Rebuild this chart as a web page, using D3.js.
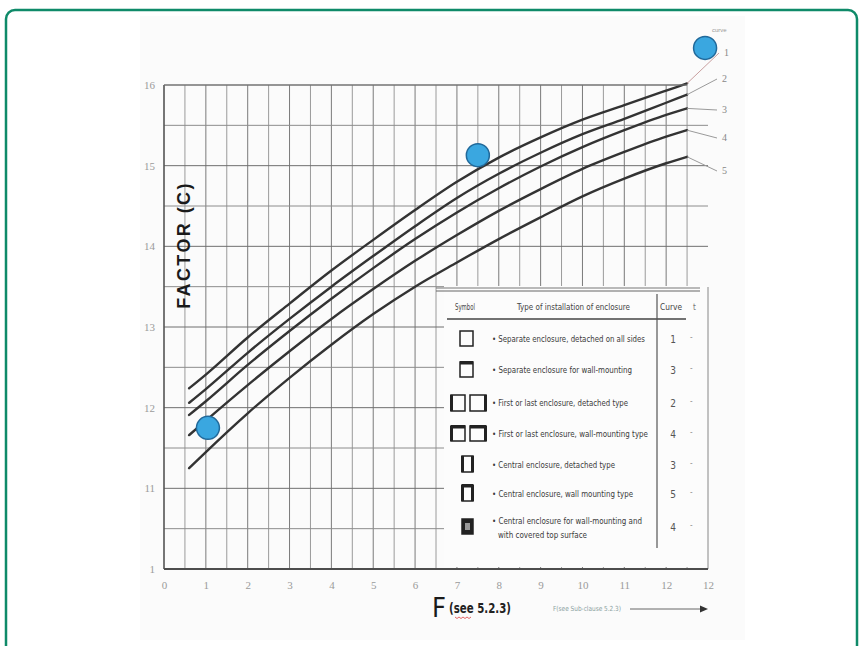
<!DOCTYPE html>
<html>
<head>
<meta charset="utf-8">
<script src="https://cdn.jsdelivr.net/npm/d3@7"></script>
<style>
  body { margin: 0; background: #fff; }
  svg { display: block; }
</style>
</head>
<body>
<svg id="chart" width="864" height="646"></svg>
<script>
// values (F on x, factor c on y)
const fPoints = [0.6, 1, 2, 3, 4, 5, 6, 7, 8, 9, 10, 11, 12, 12.5];
const curve1 = [1.224, 1.241, 1.287, 1.329, 1.370, 1.408, 1.445, 1.480, 1.510, 1.535, 1.557, 1.575, 1.593, 1.602];
const curve2 = [1.206, 1.223, 1.268, 1.310, 1.350, 1.388, 1.425, 1.460, 1.490, 1.516, 1.539, 1.558, 1.578, 1.588];
const curve3 = [1.191, 1.208, 1.253, 1.295, 1.335, 1.373, 1.409, 1.442, 1.472, 1.499, 1.523, 1.544, 1.563, 1.571];
const curve4 = [1.166, 1.184, 1.228, 1.270, 1.310, 1.347, 1.382, 1.414, 1.444, 1.471, 1.496, 1.517, 1.536, 1.544];
const curve5 = [1.125, 1.145, 1.193, 1.237, 1.278, 1.316, 1.350, 1.380, 1.409, 1.436, 1.462, 1.484, 1.503, 1.511];
const curveNames = ["1", "2", "3", "4", "5"];

// blue highlight dots
const markF = [1.05, 7.5, 12.93];
const markC = [1.175, 1.513, 1.646];

// tick labels as printed on the scan
const xTickValues = [0, 1, 2, 3, 4, 5, 6, 7, 8, 9, 10, 11, 12, 13];
const xTickLabels = ["0", "1", "2", "3", "4", "5", "6", "7", "8", "9", "10", "11", "12", "12"];
const yTickValues = [1.0, 1.1, 1.2, 1.3, 1.4, 1.5, 1.6];
const yTickLabels = ["1", "11", "12", "13", "14", "15", "16"];

// legend table
const legendSymbols = ["single", "singleTop", "double", "doubleTop", "central", "centralTop", "centralFilled"];
const legendTexts = [
    ["• Separate enclosure, detached on all sides"],
    ["• Separate enclosure for wall-mounting"],
    ["• First or last enclosure, detached type"],
    ["• First or last enclosure, wall-mounting type"],
    ["• Central enclosure, detached type"],
    ["• Central enclosure, wall mounting type"],
    ["• Central enclosure for wall-mounting and", "with covered top surface"]
];
const legendCurves = ["1", "3", "2", "4", "3", "5", "4"];

const svg = d3.select('#chart');

// green card frame (runs off the right/bottom of the window)
svg.append('rect')
    .attr('x', 6).attr('y', 10).attr('width', 851).attr('height', 660)
    .attr('rx', 9)
    .attr('fill', '#fff').attr('stroke', '#0f8a69').attr('stroke-width', 2.5);

// faint scanned paper
svg.append('rect')
    .attr('x', 140).attr('y', 16).attr('width', 605).attr('height', 624)
    .attr('fill', '#fbfbfb');

const x = d3.scaleLinear().domain([0, 13]).range([164, 708]);
const y = d3.scaleLinear().domain([1.0, 1.6]).range([569, 85]);

// grid
const grid = svg.append('g').attr('stroke-width', 1).attr('fill', 'none');
d3.range(0.5, 12.51, 0.5).forEach(f => {
    grid.append('line')
        .attr('x1', x(f)).attr('x2', x(f))
        .attr('y1', y(1.6)).attr('y2', y(1.0))
        .attr('stroke', Number.isInteger(f) ? '#7a7a7a' : '#9a9a9a');
});
d3.range(1.05, 1.601, 0.05).forEach(c => {
    const major = Math.abs(c * 10 - Math.round(c * 10)) < 1e-6;
    grid.append('line')
        .attr('x1', x(0)).attr('x2', c > 1.59 ? x(12.5) : x(13))
        .attr('y1', y(c)).attr('y2', y(c))
        .attr('stroke', major ? '#6f6f6f' : '#8c8c8c');
});

// curves
const curves = [curve1, curve2, curve3, curve4, curve5];
const line = d3.line()
    .x(d => x(d[0]))
    .y(d => y(d[1]))
    .curve(d3.curveMonotoneX);

curves.forEach(vals => {
    svg.append('path')
        .datum(fPoints.map((f, i) => [f, vals[i]]))
        .attr('d', line)
        .attr('fill', 'none')
        .attr('stroke', '#333')
        .attr('stroke-width', 2.4)
        .attr('stroke-linecap', 'round');
});

// leader lines to the curve numbers
const labelPos = [[724, 56], [722, 82], [722, 113], [722, 141], [722, 174]];
curves.forEach((vals, i) => {
    const ex = x(fPoints[fPoints.length - 1]);
    const ey = y(vals[vals.length - 1]);
    svg.append('line')
        .attr('x1', ex).attr('y1', ey)
        .attr('x2', labelPos[i][0] - 5).attr('y2', labelPos[i][1] - 3)
        .attr('stroke', i === 0 ? '#c9a0a0' : '#9a9a9a').attr('stroke-width', 1);
    svg.append('text')
        .attr('x', labelPos[i][0]).attr('y', labelPos[i][1])
        .attr('font-family', 'Liberation Serif, serif')
        .attr('font-size', 10).attr('fill', '#888')
        .text(curveNames[i]);
});
svg.append('text')
    .attr('x', 712).attr('y', 32)
    .attr('font-family', 'Liberation Sans, sans-serif')
    .attr('font-size', 6).attr('fill', '#999')
    .text('curve');

// legend table covering the lower-right of the grid
const lg = svg.append('g');
lg.append('rect')
    .attr('x', 444).attr('y', 286).attr('width', 264).attr('height', 281)
    .attr('fill', '#fcfcfc');
lg.append('line').attr('x1', x(6.5)).attr('x2', 700).attr('y1', 288).attr('y2', 288)
    .attr('stroke', '#777').attr('stroke-width', 1);
lg.append('line').attr('x1', x(6.5)).attr('x2', 700).attr('y1', 291).attr('y2', 291)
    .attr('stroke', '#666').attr('stroke-width', 1.2);
lg.append('line').attr('x1', 447).attr('x2', 686).attr('y1', 319).attr('y2', 319)
    .attr('stroke', '#444').attr('stroke-width', 1.3);
lg.append('line').attr('x1', 657).attr('x2', 657).attr('y1', 294).attr('y2', 548)
    .attr('stroke', '#555').attr('stroke-width', 1.2);
lg.append('line').attr('x1', x(13)).attr('x2', x(13)).attr('y1', 287).attr('y2', 569)
    .attr('stroke', '#888').attr('stroke-width', 1);

const headFont = 'Liberation Sans Narrow, DejaVu Sans Condensed, sans-serif';
[['Symbol', 455, 20], ['Type of installation of enclosure', 517, 113], ['Curve', 660, 22]].forEach(h => {
    lg.append('text')
        .attr('x', h[1]).attr('y', 310)
        .attr('font-family', headFont).attr('font-size', 8.5).attr('fill', '#444')
        .attr('textLength', h[2]).attr('lengthAdjust', 'spacingAndGlyphs')
        .text(h[0]);
});
lg.append('text').attr('x', 693).attr('y', 310)
    .attr('font-family', headFont).attr('font-size', 8).attr('fill', '#777').text('t');

const rowY = [339, 370, 403, 434, 465, 494, 527];
const textWidths = [[153], [140], [136], [156], [123], [141], [150, 89]];

const drawBox = (g, bx, by, w, h, thick, fill) => {
    g.append('rect').attr('x', bx).attr('y', by).attr('width', w).attr('height', h)
        .attr('fill', fill || 'none').attr('stroke', '#222').attr('stroke-width', 1.5);
    (thick || []).forEach(side => {
        const r = { top: [bx, by - 1, w, 3.5], left: [bx - 1, by, 3, h], right: [bx + w - 2, by, 3, h] }[side];
        g.append('rect').attr('x', r[0]).attr('y', r[1]).attr('width', r[2]).attr('height', r[3]).attr('fill', '#222');
    });
};

legendSymbols.forEach((sym, i) => {
    const cy = rowY[i];
    if (sym === 'single') drawBox(lg, 460, cy - 8, 13, 15);
    if (sym === 'singleTop') drawBox(lg, 460, cy - 8, 13, 15, ['top']);
    if (sym === 'double') { drawBox(lg, 451, cy - 8, 14, 16, ['left']); drawBox(lg, 470, cy - 8, 16, 16, ['right']); }
    if (sym === 'doubleTop') { drawBox(lg, 451, cy - 8, 14, 15, ['top', 'left']); drawBox(lg, 470, cy - 8, 16, 15, ['top', 'right']); }
    if (sym === 'central') drawBox(lg, 462, cy - 9, 11, 16, ['left', 'right']);
    if (sym === 'centralTop') drawBox(lg, 462, cy - 9, 11, 16, ['top', 'left', 'right']);
    if (sym === 'centralFilled') {
        drawBox(lg, 462, cy - 8, 11, 15, null, '#222');
        lg.append('rect').attr('x', 465).attr('y', cy - 4).attr('width', 5).attr('height', 7).attr('fill', '#999');
    }

    legendTexts[i].forEach((t, j) => {
        lg.append('text')
            .attr('x', j === 0 ? 492 : 498).attr('y', cy + 3 - (legendTexts[i].length > 1 ? 6 : 0) + j * 14)
            .attr('font-family', headFont).attr('font-size', 9).attr('fill', '#3a3a3a')
            .attr('textLength', textWidths[i][j]).attr('lengthAdjust', 'spacingAndGlyphs')
            .text(t);
    });
    lg.append('text')
        .attr('x', 673).attr('y', cy + 4)
        .attr('text-anchor', 'middle')
        .attr('font-family', headFont).attr('font-size', 10).attr('fill', '#555')
        .text(legendCurves[i]);
    lg.append('text')
        .attr('x', 690).attr('y', cy + 1)
        .attr('font-family', headFont).attr('font-size', 8).attr('fill', '#888')
        .text('-');
});

// axes frame
svg.append('line').attr('x1', x(0)).attr('x2', x(0)).attr('y1', y(1.6)).attr('y2', y(1.0))
    .attr('stroke', '#555').attr('stroke-width', 1.6);
svg.append('line').attr('x1', x(0)).attr('x2', x(13)).attr('y1', y(1.0)).attr('y2', y(1.0))
    .attr('stroke', '#4d4d4d').attr('stroke-width', 1.8);
svg.append('line').attr('x1', x(0)).attr('x2', x(12.5)).attr('y1', y(1.6)).attr('y2', y(1.6))
    .attr('stroke', '#777').attr('stroke-width', 1.2);

// tick labels
const xAxis = d3.axisBottom(x).tickValues(xTickValues).tickSize(0).tickPadding(12)
    .tickFormat((d, i) => xTickLabels[i]);
const gx = svg.append('g').attr('transform', `translate(0,${y(1.0)})`).call(xAxis);
gx.select('.domain').remove();
gx.selectAll('text').attr('font-family', 'Liberation Serif, serif').attr('font-size', 11).attr('fill', '#9a9a9a');

const yAxis = d3.axisLeft(y).tickValues(yTickValues).tickSize(0).tickPadding(9)
    .tickFormat((d, i) => yTickLabels[i]);
const gy = svg.append('g').attr('transform', `translate(${x(0)},0)`).call(yAxis);
gy.select('.domain').remove();
gy.selectAll('text').attr('font-family', 'Liberation Serif, serif').attr('font-size', 11).attr('fill', '#9a9a9a');

// axis titles
svg.append('text')
    .attr('transform', 'translate(190,245) rotate(-90)')
    .attr('text-anchor', 'middle')
    .attr('font-family', 'Liberation Sans, Arial, sans-serif')
    .attr('font-size', 18).attr('font-weight', 'bold').attr('letter-spacing', 2.4).attr('fill', '#1a1a1a')
    .text('FACTOR (C)');

svg.append('text')
    .attr('x', 432).attr('y', 617)
    .attr('font-family', 'Liberation Sans Narrow, DejaVu Sans Condensed, sans-serif')
    .attr('font-size', 27).attr('fill', '#1a1a1a')
    .text('F');
svg.append('text')
    .attr('x', 449).attr('y', 613)
    .attr('font-family', 'Liberation Sans Narrow, DejaVu Sans Condensed, sans-serif')
    .attr('font-size', 14).attr('font-weight', 'bold').attr('fill', '#222')
    .attr('textLength', 62).attr('lengthAdjust', 'spacingAndGlyphs')
    .text('(see 5.2.3)');
// spell-check squiggle under "see"
svg.append('path')
    .attr('d', 'M455,617 l2,1.5 l2,-1.5 l2,1.5 l2,-1.5 l2,1.5 l2,-1.5 l2,1.5 l2,-1.5')
    .attr('fill', 'none').attr('stroke', '#e04040').attr('stroke-width', 0.8);
svg.append('text')
    .attr('x', 553).attr('y', 611)
    .attr('font-family', headFont).attr('font-size', 7).attr('fill', '#8aa0a0')
    .attr('textLength', 68).attr('lengthAdjust', 'spacingAndGlyphs')
    .text('F(see Sub-clause 5.2.3)');
svg.append('line').attr('x1', 630).attr('x2', 700).attr('y1', 609).attr('y2', 609)
    .attr('stroke', '#666').attr('stroke-width', 1);
svg.append('path').attr('d', 'M700,605.5 L708,609 L700,612.5 Z').attr('fill', '#333');

// blue dots
svg.append('g').selectAll('circle')
    .data(markF.map((f, i) => [f, markC[i]]))
    .join('circle')
    .attr('cx', d => x(d[0])).attr('cy', d => y(d[1]))
    .attr('r', 11.5)
    .attr('fill', '#3aa7e0').attr('stroke', '#21699a').attr('stroke-width', 1.5);
</script>
</body>
</html>
